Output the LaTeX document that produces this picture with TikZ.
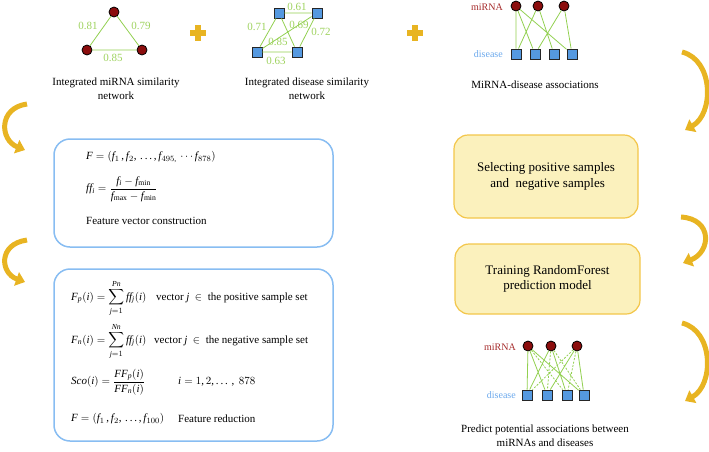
\documentclass[tikz,border=0pt]{standalone}
\usepackage{amsmath}
\usepackage{fontspec}
\setmainfont{Liberation Serif}
\DeclareSymbolFont{letters}{TU}{\rmdefault}{m}{it}
\DeclareSymbolFont{operators}{TU}{\rmdefault}{m}{n}
\mathcode`,="602C
\mathcode`.="002E
\mathcode`/="002F
\mathchardef\ldotp="602E
\usetikzlibrary{arrows.meta}
\definecolor{mirna}{HTML}{8B0D0D}
\definecolor{disblue}{HTML}{5599E0}
\definecolor{lgreen}{HTML}{92D050}
\definecolor{lblgreen}{HTML}{9ED25E}
\definecolor{gold}{HTML}{E8B422}
\definecolor{boxblue}{HTML}{88BDF2}
\definecolor{yfill}{HTML}{FBF1BD}
\definecolor{yborder}{HTML}{F3C64A}
\definecolor{mlabel}{HTML}{A52A2A}
\definecolor{dlabel}{HTML}{6AA8EC}
\begin{document}
\begin{tikzpicture}[x=1pt,y=-1pt,
  mnode/.style={circle,fill=mirna,draw=black,line width=0.8pt,minimum size=10pt,inner sep=0pt},
  dnode/.style={rectangle,fill=disblue,draw=black!85,line width=0.9pt,minimum size=10pt,inner sep=0pt},
  gedge/.style={lgreen,line width=0.8pt},
  gdash/.style={lgreen,line width=0.8pt,dash pattern=on 2pt off 1.5pt},
  glabel/.style={text=lblgreen,font=\fontsize{11}{13}\selectfont,inner sep=0pt},
  caption/.style={font=\fontsize{11}{14}\selectfont,align=center,inner sep=0pt},
  mlab/.style={text=mlabel,font=\fontsize{10}{12}\selectfont,anchor=east,inner sep=0pt},
  dlab/.style={text=dlabel,font=\fontsize{10}{12}\selectfont,anchor=east,inner sep=0pt},
  bluebox/.style={draw=boxblue,line width=1.5pt,rounded corners=16pt,fill=white},
  yellowbox/.style={draw=yborder,line width=1.2pt,rounded corners=14pt,fill=yfill,align=center,font=\fontsize{13}{15.5}\selectfont},
  eq/.style={anchor=west,inner sep=0pt,font=\fontsize{11}{13}\selectfont},
  goldarrow/.style={draw=gold,line width=5pt,-{Triangle[width=14pt,length=9pt]}},
  plusbar/.style={fill=gold}]
\useasboundingbox (0,0) rectangle (709,451);

% --- miRNA similarity network
\node[mnode] (a1) at (114,12) {};
\node[mnode] (a2) at (87,50) {};
\node[mnode] (a3) at (142,50) {};
\draw[gedge] (a1) -- (a2) (a1) -- (a3) (a2) -- (a3);
\node[glabel] (la1) at (88,26) {0.81};
\node[glabel] (la2) at (141,26) {0.79};
\node[glabel] (la3) at (113,58) {0.85};
\node[caption] (c1) at (116,89) {Integrated miRNA similarity\\network};

% plus 1
\fill[plusbar] (190,29.5) rectangle (206,35.5);
\fill[plusbar] (195,24.5) rectangle (201,40.5);

% --- disease similarity network
\node[dnode] (b1) at (279,13) {};
\node[dnode] (b2) at (317,13) {};
\node[dnode] (b3) at (257,52) {};
\node[dnode] (b4) at (297,52) {};
\draw[gedge] (b1) -- (b2) (b3) -- (b4) (b1) -- (b3) (b2) -- (b4) (b1) -- (b4) (b2) -- (b3);
\node[glabel] (lb1) at (297,7) {0.61};
\node[glabel] (lb2) at (257,27) {0.71};
\node[glabel] (lb3) at (299,25) {0.69};
\node[glabel] (lb4) at (321,32) {0.72};
\node[glabel] (lb5) at (278,42) {0.85};
\node[glabel] (lb6) at (276,61) {0.63};
\node[caption] (c2) at (307,89) {Integrated disease similarity\\network};

% plus 2
\fill[plusbar] (407,29.5) rectangle (423,35.5);
\fill[plusbar] (412,24.5) rectangle (418,40.5);

% --- miRNA-disease associations
\node[mlab] (ml1) at (503,7) {miRNA};
\node[dlab] (dl1) at (503,54) {disease};
\node[mnode] (m1) at (516,6) {};
\node[mnode] (m2) at (538,6) {};
\node[mnode] (m3) at (564,6) {};
\node[dnode] (d1) at (516,54) {};
\node[dnode] (d2) at (535,54) {};
\node[dnode] (d3) at (554,54) {};
\node[dnode] (d4) at (572,54) {};
\draw[gedge] (m1) -- (d1) (m1) -- (d2) (m1) -- (d4) (m2) -- (d1) (m2) -- (d3) (m3) -- (d2) (m3) -- (d4);
\node[caption] (c3) at (535,85) {MiRNA-disease associations};

% --- feature vector box
\node[bluebox,minimum width=279pt,minimum height=108pt] (fv) at (193.5,193) {};
\node[eq] (e1) at (86,157) {$F=(f_1\,, f_2,\,\ldots, f_{495,}\,\cdots f_{878})$};
\node[eq] (e2) at (86,189) {$ff_i=\dfrac{f_i-f_{\min}}{f_{\max}-f_{\min}}$};
\node[eq] (e3) at (86,221) {Feature vector construction};

% --- feature reduction box
\node[bluebox,minimum width=279pt,minimum height=172pt] (fr) at (193.5,355) {};
\node[eq] (r1) at (71,298) {$F_p(i)=\displaystyle\sum_{j=1}^{Pn} ff_j(i)$};
\node[eq] (r1t) at (156,298) {vector $j$ \ $\in$ \ the positive sample set};
\node[eq] (r2) at (71,341) {$F_n(i)=\displaystyle\sum_{j=1}^{Nn} ff_j(i)$};
\node[eq] (r2t) at (154,341) {vector $j$ \ $\in$ \ the negative sample set};
\node[eq] (r3) at (71,382) {$Sco(i)=\dfrac{FF_p(i)}{FF_n(i)}$};
\node[eq] (r3t) at (178,382) {$i=1,2,\ldots\,,\ 878$};
\node[eq] (r4) at (71,419) {$F=(f_1\,, f_2,\,\ldots, f_{100})$};
\node[eq] (r4t) at (178,419) {Feature reduction};

% --- yellow boxes
\node[yellowbox,minimum width=184pt,minimum height=83pt] (ya) at (546,176.5) {Selecting positive samples\\\ and \ negative samples};
\node[yellowbox,minimum width=185pt,minimum height=70pt] (yb) at (547.5,279) {Training RandomForest\\prediction model};

% --- predicted associations
\node[mlab] (ml2) at (516,347) {miRNA};
\node[dlab] (dl2) at (516,395) {disease};
\node[mnode] (p1) at (528,346) {};
\node[mnode] (p2) at (551,346) {};
\node[mnode] (p3) at (577,346) {};
\node[dnode] (q1) at (527,395) {};
\node[dnode] (q2) at (547,395) {};
\node[dnode] (q3) at (567,395) {};
\node[dnode] (q4) at (584,395) {};
\draw[gedge] (p1) -- (q1) (p1) -- (q2) (p1) -- (q4) (p2) -- (q1) (p2) -- (q3) (p3) -- (q2) (p3) -- (q4);
\draw[gdash] (p1) -- (q3) (p2) -- (q2) (p2) -- (q4) (p3) -- (q1) (p3) -- (q3);
\node[caption] (c4) at (545,436) {Predict potential associations between\\miRNAs and diseases};

% --- curved gold arrows
\coordinate (la1s) at (27,104);
\coordinate (la1e) at (25,150);
\draw[goldarrow] (la1s) .. controls (-2,108) and (0,140) .. (la1e);
\coordinate (la2s) at (27,240);
\coordinate (la2e) at (25,282);
\draw[goldarrow] (la2s) .. controls (-2,244) and (0,273) .. (la2e);
\coordinate (ra1s) at (682,52);
\coordinate (ra1e) at (685,130);
\draw[goldarrow] (ra1s) .. controls (714,60) and (714,114) .. (ra1e);
\coordinate (ra2s) at (681,217);
\coordinate (ra2e) at (683,263);
\draw[goldarrow] (ra2s) .. controls (713,219) and (711,252) .. (ra2e);
\coordinate (ra3s) at (682,323);
\coordinate (ra3e) at (685,401);
\draw[goldarrow] (ra3s) .. controls (714,331) and (714,385) .. (ra3e);
\end{tikzpicture}
\end{document}
